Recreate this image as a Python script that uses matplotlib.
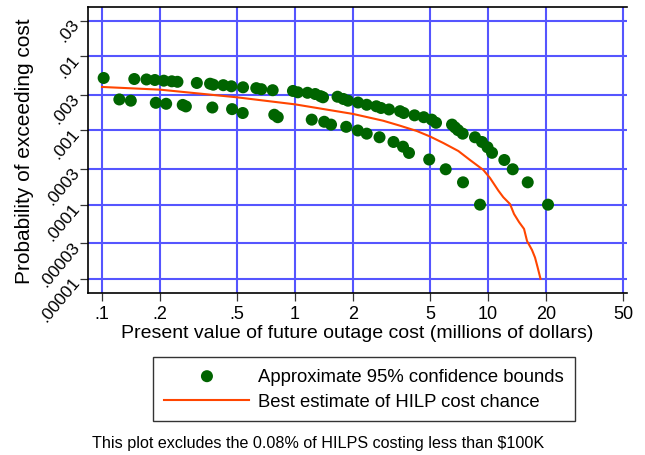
import matplotlib
matplotlib.use("Agg")
import matplotlib.pyplot as plt
from matplotlib.ticker import FixedLocator, FixedFormatter, NullLocator
from matplotlib.transforms import Bbox, TransformedBbox

plt.rcParams['font.family'] = ['Liberation Sans', 'DejaVu Sans']

# upper confidence bound: cost (millions $) and exceedance probability
upper_cost = [0.102, 0.147, 0.170, 0.188, 0.209, 0.230, 0.246, 0.310, 0.363, 0.377,
              0.425, 0.468, 0.538, 0.630, 0.669, 0.766, 0.976, 1.034, 1.161, 1.273,
              1.356, 1.397, 1.661, 1.780, 1.882, 2.121, 2.352, 2.638, 2.790, 3.069,
              3.499, 3.657, 4.162, 4.645, 5.109, 5.378, 6.510, 6.745, 6.993, 7.394,
              8.562, 9.308, 9.940, 10.49, 12.15, 13.43, 16.06, 20.46]
upper_prob = [5.10e-3, 4.94e-3, 4.87e-3, 4.79e-3, 4.69e-3, 4.60e-3, 4.53e-3, 4.37e-3, 4.27e-3, 4.14e-3,
              4.08e-3, 3.94e-3, 3.82e-3, 3.72e-3, 3.60e-3, 3.49e-3, 3.41e-3, 3.27e-3, 3.22e-3, 3.10e-3,
              2.90e-3, 2.80e-3, 2.85e-3, 2.66e-3, 2.52e-3, 2.38e-3, 2.22e-3, 2.12e-3, 2.01e-3, 1.92e-3,
              1.82e-3, 1.72e-3, 1.60e-3, 1.51e-3, 1.40e-3, 1.27e-3, 1.20e-3, 1.10e-3, 1.01e-3, 9.06e-4,
              8.10e-4, 7.00e-4, 5.94e-4, 5.00e-4, 4.00e-4, 3.00e-4, 2.00e-4, 1.00e-4]

# lower confidence bound
lower_cost = [0.123, 0.141, 0.190, 0.215, 0.262, 0.272, 0.373, 0.472, 0.536, 0.781,
              0.814, 1.221, 1.417, 1.537, 1.842, 2.116, 2.352, 2.741, 3.238, 3.628,
              3.896, 4.958, 6.037, 7.422, 9.089]
lower_prob = [2.62e-3, 2.52e-3, 2.36e-3, 2.29e-3, 2.21e-3, 2.11e-3, 2.04e-3, 1.94e-3, 1.72e-3, 1.63e-3,
              1.51e-3, 1.40e-3, 1.31e-3, 1.20e-3, 1.12e-3, 1.00e-3, 9.06e-4, 8.10e-4, 7.00e-4, 6.05e-4,
              4.98e-4, 4.06e-4, 3.00e-4, 2.00e-4, 1.00e-4]

# best estimate curve
best_cost = [0.100, 0.200, 0.500, 1.000, 2.000, 2.858, 3.499, 4.272, 5.006, 5.867,
             7.017, 8.066, 9.455, 10.24, 11.31, 12.00, 13.00, 13.64, 14.47, 15.37,
             15.93, 16.90, 17.52, 18.05, 18.71]
best_prob = [3.86e-3, 3.55e-3, 2.80e-3, 2.25e-3, 1.67e-3, 1.355e-3, 1.16e-3, 9.85e-4, 8.30e-4, 6.78e-4,
             5.29e-4, 4.00e-4, 2.94e-4, 2.29e-4, 1.55e-4, 1.26e-4, 1.02e-4, 7.49e-5, 5.84e-5, 4.71e-5,
             3.24e-5, 2.45e-5, 1.94e-5, 1.45e-5, 1.00e-5]

x_ticks = [0.1, 0.2, 0.5, 1, 2, 5, 10, 20, 50]
x_labels = ['.1', '.2', '.5', '1', '2', '5', '10', '20', '50']
y_ticks = [0.00001, 0.00003, 0.0001, 0.0003, 0.001, 0.003, 0.01, 0.03]
y_labels = ['.00001', '.00003', '.0001', '.0003', '.001', '.003', '.01', '.03']

fig = plt.figure(figsize=(6.45, 4.56), dpi=100)
ax = fig.add_axes([0.1364, 0.3553, 0.8357, 0.6272])

ax.scatter(upper_cost, upper_prob, s=75, color='#006400', edgecolors='none', zorder=3,
           label='Approximate 95% confidence bounds')
ax.scatter(lower_cost, lower_prob, s=75, color='#006400', edgecolors='none', zorder=3)
ax.plot(best_cost, best_prob, color='#ff4500', lw=1.5, zorder=4,
        label='Best estimate of HILP cost chance')

ax.set_xscale('log')
ax.set_yscale('log')
ax.set_xlim(0.0846, 52.5)
ax.set_ylim(6.45e-6, 0.0462)

ax.xaxis.set_major_locator(FixedLocator(x_ticks))
ax.xaxis.set_major_formatter(FixedFormatter(x_labels))
ax.xaxis.set_minor_locator(NullLocator())
ax.yaxis.set_major_locator(FixedLocator(y_ticks))
ax.yaxis.set_major_formatter(FixedFormatter(y_labels))
ax.yaxis.set_minor_locator(NullLocator())

ax.grid(True, color='#5555ff', lw=1.5)
ax.set_axisbelow(True)
ax.spines['right'].set_visible(False)
for side in ['left', 'bottom', 'top']:
    ax.spines[side].set_linewidth(1.2)

ax.tick_params(axis='both', length=6, width=0.9, color='#333333')
ax.tick_params(axis='x', labelsize=13, pad=3)
ax.tick_params(axis='y', labelsize=12.5, pad=2)
for lab in ax.get_yticklabels():
    lab.set_rotation(50)
    lab.set_rotation_mode('anchor')
    lab.set_ha('right')
    lab.set_va('center')

ax.set_xlabel('Present value of future outage cost (millions of dollars)', fontsize=14, labelpad=1)
ax.set_ylabel('Probability of exceeding cost', fontsize=15, labelpad=2)

leg = fig.legend(loc='upper center', bbox_to_anchor=(0.5643, 0.215), fontsize=13.3,
                 frameon=True, fancybox=False, edgecolor='black', handlelength=4.6,
                 handletextpad=0.45, borderpad=0.6, labelspacing=0.45, borderaxespad=0,
                 markerscale=1.0)
leg.get_frame().set_linewidth(1.0)

fig.text(0.1425, 0.0285, 'This plot excludes the 0.08% of HILPS costing less than $100K',
         fontsize=11.6, va='center')

# the "50" label runs off the right edge of the graph region
fig.canvas.draw()
edge = TransformedBbox(Bbox([[0, 0], [633 / 645, 1]]), fig.transFigure)
for tick in ax.xaxis.get_major_ticks():
    tick.label1.set_clip_box(edge)
    tick.label1.set_clip_on(True)

fig.savefig('out.png', dpi=100)
